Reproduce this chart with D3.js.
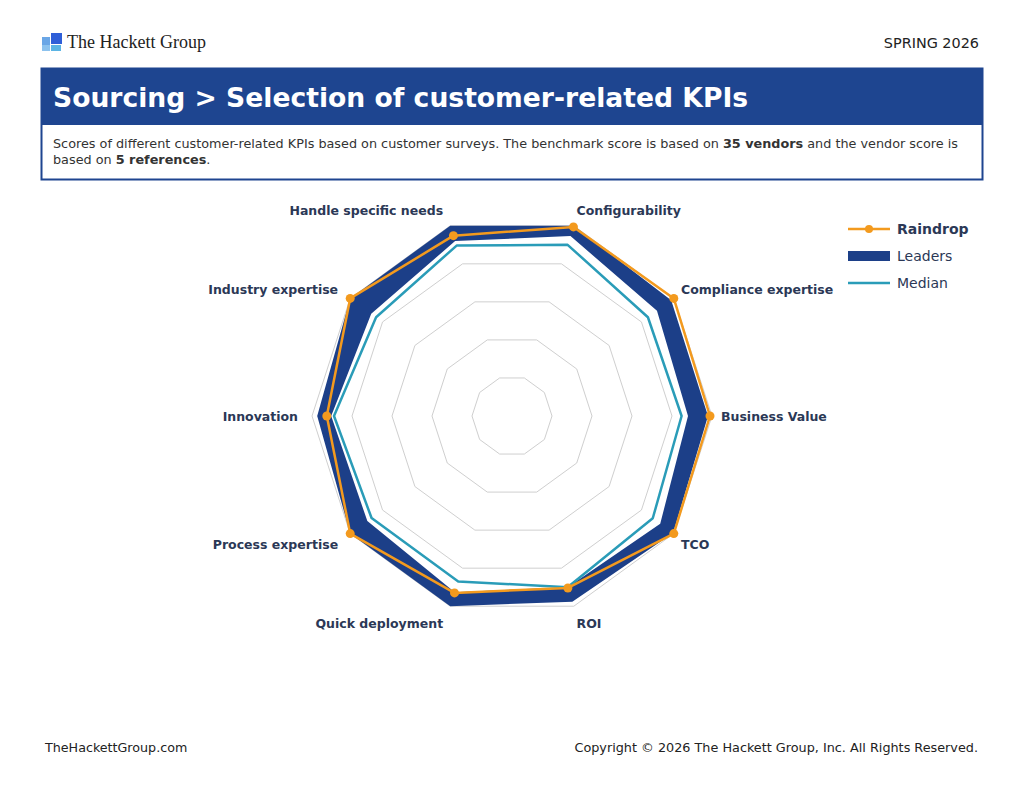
<!DOCTYPE html>
<html>
<head>
<meta charset="utf-8">
<script src="https://cdn.jsdelivr.net/npm/d3@7/dist/d3.min.js"></script>
<style>
  html, body { margin: 0; padding: 0; background: #fff; }
  svg { display: block; font-family: "DejaVu Sans", Verdana, sans-serif; }
</style>
</head>
<body>
<div id="chart"></div>
<script>
// axis names, clockwise starting at the top right
var axes = ["Configurability", "Compliance expertise", "Business Value", "TCO", "ROI",
            "Quick deployment", "Process expertise", "Innovation", "Industry expertise", "Handle specific needs"];
var raindrop    = [4.97, 5.0, 4.95, 5.0, 4.52, 4.65, 5.0, 4.63, 5.0, 4.74];
var leadersHigh = [5.0, 4.92, 4.9, 4.98, 4.88, 5.0, 5.0, 4.87, 5.0, 5.0];
var leadersLow  = [4.73, 4.48, 4.4, 4.58, 4.5, 4.63, 4.47, 4.52, 4.35, 4.6];
var median      = [4.5, 4.2, 4.24, 4.35, 4.5, 4.35, 4.34, 4.45, 4.2, 4.48];
var gridLevels  = [1, 2, 3, 4, 5];
var legendNames = ["Raindrop", "Leaders", "Median"];

var width = 1024, height = 798;
var cx = 512, cy = 416, radius = 200;
var navy = "#1c3f88", orange = "#f39a1e", teal = "#2a9cb8", labelCol = "#2b3856";

var svg = d3.select("#chart").append("svg")
  .attr("width", width)
  .attr("height", height);

// ---- page header ----
var logo = svg.append("g").attr("transform", "translate(42,33)");
logo.append("rect").attr("x", 0).attr("y", 4).attr("width", 8).attr("height", 8).attr("fill", "#6aa6e6");
logo.append("rect").attr("x", 9).attr("y", 0).attr("width", 11).attr("height", 11).attr("fill", "#2f5fd8");
logo.append("rect").attr("x", 0).attr("y", 12).attr("width", 8).attr("height", 6).attr("fill", "#8cc2ee");
logo.append("rect").attr("x", 9).attr("y", 12).attr("width", 10).attr("height", 6).attr("fill", "#5bb4e4");
svg.append("text")
  .attr("x", 67).attr("y", 48)
  .style("font-family", "'Liberation Serif', serif")
  .style("font-size", "18px")
  .attr("fill", "#222")
  .text("The Hackett Group");
svg.append("text")
  .attr("x", 979).attr("y", 48)
  .attr("text-anchor", "end")
  .style("font-size", "14.4px")
  .attr("fill", "#222")
  .text("SPRING 2026");

// ---- title box ----
svg.append("rect")
  .attr("x", 41.5).attr("y", 68.5).attr("width", 941).attr("height", 111)
  .attr("fill", "#fff").attr("stroke", "#1e4590").attr("stroke-width", 2);
svg.append("rect")
  .attr("x", 41).attr("y", 68).attr("width", 942).attr("height", 57)
  .attr("fill", "#1e4590");
svg.append("text")
  .attr("x", 53).attr("y", 107)
  .style("font-size", "26.6px").style("font-weight", "bold")
  .attr("fill", "#fff")
  .text("Sourcing > Selection of customer-related KPIs");

var desc = svg.append("text").attr("x", 53).attr("y", 148)
  .style("font-size", "12.8px").attr("fill", "#333");
desc.append("tspan").text("Scores of different customer-related KPIs based on customer surveys. The benchmark score is based on ");
desc.append("tspan").style("font-weight", "bold").text("35 vendors");
desc.append("tspan").text(" and the vendor score is");
var desc2 = svg.append("text").attr("x", 53).attr("y", 164)
  .style("font-size", "12.8px").attr("fill", "#333");
desc2.append("tspan").text("based on ");
desc2.append("tspan").style("font-weight", "bold").text("5 references");
desc2.append("tspan").text(".");

// ---- radar ----
var n = axes.length;
var rScale = d3.scaleLinear().domain([0, 5]).range([0, radius]);
function angle(i) { return Math.PI / 10 + i * 2 * Math.PI / n; }

var g = svg.append("g").attr("transform", "translate(" + cx + "," + cy + ")");

var radial = d3.lineRadial()
  .angle(function(d, i) { return angle(i); })
  .radius(function(d) { return rScale(d); })
  .curve(d3.curveLinearClosed);

// grid decagons
g.selectAll(".grid")
  .data(gridLevels)
  .enter()
  .append("path")
    .attr("class", "grid")
    .attr("d", function(lv) { return radial(axes.map(function() { return lv; })); })
    .attr("fill", "none")
    .attr("stroke", "#cfcfcf")
    .attr("stroke-width", 1);

// leaders band (outer ring minus inner ring)
g.append("path")
  .attr("d", radial(leadersHigh) + radial(leadersLow))
  .attr("fill", navy)
  .attr("fill-rule", "evenodd");

// median line
g.append("path")
  .attr("d", radial(median))
  .attr("fill", "none")
  .attr("stroke", teal)
  .attr("stroke-width", 2.5)
  .attr("stroke-linejoin", "round");

// raindrop line + dots
g.append("path")
  .attr("d", radial(raindrop))
  .attr("fill", "none")
  .attr("stroke", orange)
  .attr("stroke-width", 2.5)
  .attr("stroke-linejoin", "round");

g.selectAll(".dot")
  .data(raindrop)
  .enter()
  .append("circle")
    .attr("class", "dot")
    .attr("cx", function(d, i) { return rScale(d) * Math.sin(angle(i)); })
    .attr("cy", function(d, i) { return -rScale(d) * Math.cos(angle(i)); })
    .attr("r", 4.5)
    .attr("fill", orange);

// axis labels
g.selectAll(".label")
  .data(axes)
  .enter()
  .append("text")
    .attr("class", "label")
    .attr("x", function(d, i) {
      var s = Math.sin(angle(i));
      return s > 0 ? 209 * s : 210 * s - 4;
    })
    .attr("y", function(d, i) { return -217 * Math.cos(angle(i)) + 1; })
    .attr("dy", "0.35em")
    .attr("text-anchor", function(d, i) { return Math.sin(angle(i)) > 0 ? "start" : "end"; })
    .style("font-size", "12.5px")
    .style("font-weight", "bold")
    .attr("fill", labelCol)
    .text(function(d) { return d; });

// ---- legend ----
var lg = svg.append("g").attr("transform", "translate(848,229)");
lg.append("line").attr("x1", 0).attr("x2", 42).attr("y1", 0).attr("y2", 0)
  .attr("stroke", orange).attr("stroke-width", 2.5);
lg.append("circle").attr("cx", 21).attr("cy", 0).attr("r", 4).attr("fill", orange);
lg.append("rect").attr("x", 0).attr("y", 22).attr("width", 42).attr("height", 10).attr("fill", navy);
lg.append("line").attr("x1", 0).attr("x2", 42).attr("y1", 54).attr("y2", 54)
  .attr("stroke", teal).attr("stroke-width", 2.5);
lg.selectAll(".lgtext")
  .data(legendNames)
  .enter()
  .append("text")
    .attr("class", "lgtext")
    .attr("x", 49)
    .attr("y", function(d, i) { return i * 27; })
    .attr("dy", "0.35em")
    .style("font-size", "14px")
    .style("font-weight", function(d, i) { return i === 0 ? "bold" : "normal"; })
    .attr("fill", labelCol)
    .text(function(d) { return d; });

// ---- footer ----
svg.append("text")
  .attr("x", 45).attr("y", 752)
  .style("font-size", "12.7px").attr("fill", "#222")
  .text("TheHackettGroup.com");
svg.append("text")
  .attr("x", 978).attr("y", 752)
  .attr("text-anchor", "end")
  .style("font-size", "12.8px").attr("fill", "#222")
  .text("Copyright © 2026 The Hackett Group, Inc. All Rights Reserved.");
</script>
</body>
</html>
